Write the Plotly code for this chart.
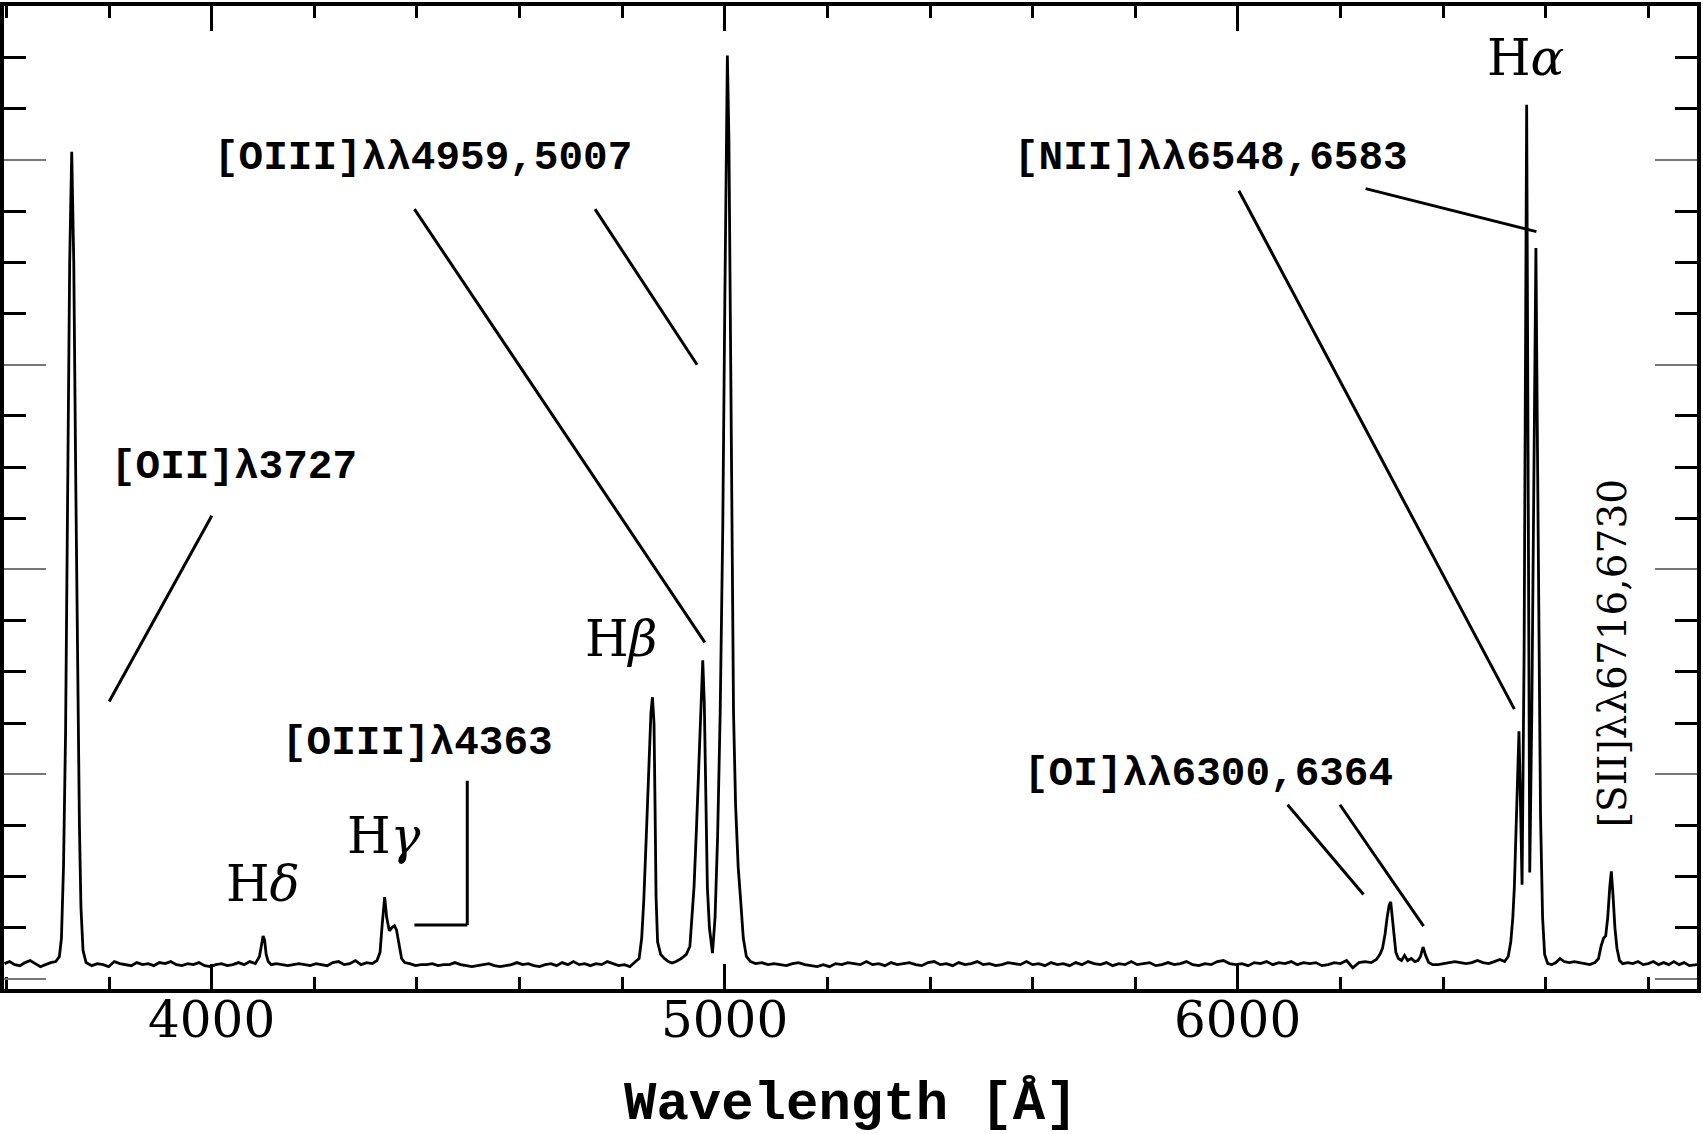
import plotly.graph_objects as go

# ---------------- spectrum data (wavelength in Angstrom, flux in arbitrary units) ----------------
cont_a_w = [3596, 3606, 3616, 3626, 3636, 3646, 3656, 3666, 3676, 3686, 3696, 3703]
cont_a_f = [0.075, 0.085, 0.07, 0.065, 0.08, 0.09, 0.075, 0.06, 0.07, 0.08, 0.085, 0.11]

oii_w = [3707, 3711, 3715, 3719, 3723, 3727, 3731, 3735, 3739, 3742, 3745, 3749]
oii_f = [0.2, 0.55, 1.2, 2.3, 3.5, 4.04, 3.5, 2.4, 1.3, 0.75, 0.35, 0.14]

cont_b_w = [3755, 3766, 3777, 3788, 3799, 3810, 3821, 3832, 3843, 3854, 3865, 3876, 3887, 3898,
            3909, 3920, 3931, 3942, 3953, 3964, 3975, 3986, 3997, 4008, 4019, 4030, 4041, 4052,
            4063, 4074, 4085, 4093]
cont_b_f = [0.08, 0.065, 0.075, 0.07, 0.06, 0.085, 0.075, 0.07, 0.065, 0.08, 0.07, 0.075, 0.065, 0.08,
            0.075, 0.085, 0.07, 0.065, 0.075, 0.07, 0.08, 0.065, 0.06, 0.07, 0.075, 0.065, 0.07, 0.08,
            0.07, 0.085, 0.075, 0.11]

hdelta_w = [4097, 4100, 4103, 4106, 4110, 4116]
hdelta_f = [0.16, 0.21, 0.19, 0.12, 0.085, 0.07]

cont_c_w = [4126, 4137, 4148, 4159, 4170, 4181, 4192, 4203, 4214, 4225, 4236, 4247, 4258, 4269,
            4280, 4291, 4302, 4313, 4322]
cont_c_f = [0.075, 0.07, 0.065, 0.07, 0.075, 0.07, 0.065, 0.075, 0.07, 0.065, 0.08, 0.085, 0.07, 0.075,
            0.09, 0.07, 0.08, 0.075, 0.09]

hgamma_w = [4328, 4332, 4337, 4341, 4346, 4351, 4356, 4360, 4365, 4370, 4376]
hgamma_f = [0.13, 0.26, 0.40, 0.30, 0.235, 0.25, 0.26, 0.24, 0.16, 0.10, 0.08]

cont_d_w = [4386, 4397, 4408, 4419, 4430, 4441, 4452, 4463, 4474, 4485, 4496, 4507, 4518, 4529,
            4540, 4551, 4562, 4573, 4584, 4595, 4606, 4617, 4628, 4639, 4650, 4661, 4672, 4683,
            4694, 4705, 4716, 4727, 4738, 4749, 4760, 4771, 4782, 4793, 4804, 4815, 4826]
cont_d_f = [0.075, 0.065, 0.07, 0.07, 0.075, 0.065, 0.07, 0.07, 0.08, 0.07, 0.065, 0.06, 0.065, 0.07,
            0.075, 0.065, 0.06, 0.065, 0.07, 0.08, 0.07, 0.075, 0.065, 0.06, 0.07, 0.075, 0.065, 0.08,
            0.07, 0.085, 0.07, 0.075, 0.065, 0.075, 0.07, 0.085, 0.075, 0.065, 0.07, 0.06, 0.085]

hbeta_oiii_w = [4833, 4838, 4842, 4847, 4852, 4856, 4859, 4862, 4864, 4866, 4869, 4875, 4882, 4890,
                4897, 4905, 4915, 4925, 4932, 4936, 4940, 4945, 4950, 4954, 4957, 4960, 4963, 4966,
                4970, 4976, 4981, 4986, 4991, 4996, 5000, 5003, 5005, 5008, 5011, 5014, 5017, 5021,
                5026, 5031, 5036, 5042, 5050]
hbeta_oiii_f = [0.1, 0.2, 0.38, 0.7, 1.05, 1.3, 1.376, 1.25, 0.85, 0.4, 0.18, 0.12, 0.1, 0.085,
                0.078, 0.085, 0.1, 0.12, 0.16, 0.3, 0.45, 0.75, 1.1, 1.4, 1.556, 1.35, 0.95, 0.45,
                0.25, 0.126, 0.3, 0.7, 1.3, 2.2, 3.3, 4.2, 4.51, 4.1, 3.0, 1.9, 1.3, 0.85,
                0.55, 0.38, 0.2, 0.11, 0.085]

cont_e_w = [5060, 5072, 5084, 5096, 5108, 5120, 5132, 5144, 5156, 5168,
            5180, 5192, 5204, 5216, 5228, 5240, 5252, 5264, 5276, 5288,
            5300, 5312, 5324, 5336, 5348, 5360, 5372, 5384, 5396, 5408,
            5420, 5432, 5444, 5456, 5468, 5480, 5492, 5504, 5516, 5528,
            5540, 5552, 5564, 5576, 5588, 5600, 5612, 5624, 5636, 5648,
            5660, 5672, 5684, 5696, 5708, 5720, 5732, 5744, 5756, 5768,
            5780, 5792, 5804, 5816, 5828, 5840, 5852, 5864, 5876, 5888,
            5900, 5912, 5924, 5936, 5948, 5960, 5972, 5984, 5996, 6008,
            6020, 6032, 6044, 6056, 6068, 6080, 6092, 6104, 6116, 6128,
            6140, 6152, 6164, 6176, 6188, 6200, 6212, 6224, 6236, 6248,
            6260, 6270, 6277]
cont_e_f = [0.075, 0.08, 0.07, 0.075, 0.07, 0.065, 0.075, 0.08, 0.07, 0.065,
            0.06, 0.07, 0.06, 0.075, 0.07, 0.08, 0.075, 0.07, 0.085, 0.07,
            0.075, 0.065, 0.08, 0.07, 0.075, 0.08, 0.07, 0.065, 0.08, 0.085,
            0.07, 0.075, 0.065, 0.08, 0.07, 0.075, 0.085, 0.07, 0.075, 0.065,
            0.07, 0.08, 0.075, 0.07, 0.085, 0.07, 0.075, 0.065, 0.08, 0.07,
            0.075, 0.065, 0.08, 0.07, 0.085, 0.075, 0.07, 0.08, 0.065, 0.075,
            0.07, 0.085, 0.07, 0.075, 0.08, 0.065, 0.07, 0.08, 0.07, 0.075,
            0.085, 0.07, 0.065, 0.075, 0.07, 0.085, 0.09, 0.075, 0.07, 0.075,
            0.065, 0.08, 0.075, 0.085, 0.07, 0.08, 0.075, 0.085, 0.07, 0.08,
            0.075, 0.08, 0.065, 0.07, 0.08, 0.075, 0.09, 0.055, 0.08, 0.085,
            0.08, 0.095, 0.12]

oi_w = [6282, 6287, 6291, 6295, 6298, 6301, 6304, 6308, 6313, 6319, 6325, 6331, 6338, 6345,
        6351, 6356, 6361, 6366, 6372, 6380]
oi_f = [0.15, 0.22, 0.3, 0.36, 0.377, 0.3, 0.2, 0.13, 0.1, 0.09, 0.115, 0.09, 0.1, 0.085,
        0.09, 0.11, 0.156, 0.115, 0.08, 0.07]

cont_f_w = [6390, 6401, 6412, 6423, 6434, 6445, 6456, 6467, 6478, 6489, 6500, 6511, 6520, 6527, 6532]
cont_f_f = [0.07, 0.075, 0.08, 0.085, 0.08, 0.075, 0.08, 0.09, 0.08, 0.075, 0.085, 0.095, 0.085, 0.11, 0.18]

halpha_nii_w = [6536, 6539, 6542, 6545, 6548, 6551, 6554, 6558, 6561, 6563, 6565, 6567, 6569, 6573,
                6577, 6581, 6584, 6587, 6590, 6594, 6598, 6604]
halpha_nii_f = [0.3, 0.45, 0.75, 1.05, 1.21, 0.85, 0.46, 1.6, 3.3, 4.27, 3.0, 1.4, 0.52, 1.3,
                2.4, 3.57, 2.6, 1.6, 0.8, 0.3, 0.12, 0.075]

sii_w = [6612, 6620, 6628, 6636, 6646, 6656, 6666, 6676, 6686, 6696, 6703, 6708, 6713, 6717,
         6721, 6725, 6728, 6731, 6735, 6739, 6744, 6750, 6760, 6770, 6780, 6790, 6800, 6810,
         6820, 6830, 6840, 6850, 6860, 6870, 6880, 6895]
sii_f = [0.07, 0.08, 0.1, 0.085, 0.08, 0.085, 0.08, 0.075, 0.07, 0.08, 0.1, 0.16, 0.2, 0.21,
         0.3, 0.45, 0.525, 0.42, 0.25, 0.15, 0.09, 0.075, 0.08, 0.075, 0.085, 0.07, 0.075, 0.085,
         0.07, 0.08, 0.07, 0.085, 0.07, 0.08, 0.065, 0.07]

segments = [(cont_a_w, cont_a_f), (oii_w, oii_f), (cont_b_w, cont_b_f), (hdelta_w, hdelta_f),
            (cont_c_w, cont_c_f), (hgamma_w, hgamma_f), (cont_d_w, cont_d_f),
            (hbeta_oiii_w, hbeta_oiii_f), (cont_e_w, cont_e_f), (oi_w, oi_f),
            (cont_f_w, cont_f_f), (halpha_nii_w, halpha_nii_f), (sii_w, sii_f)]
wavelength, flux = [], []
for w, f in segments:
    assert len(w) == len(f), (w[0], len(w), len(f))
    wavelength += w
    flux += f

x_ticks = [4000, 5000, 6000]
x_tick_labels = ["4000", "5000", "6000"]
x_range = [3595, 6895]
y_range = [-0.049, 4.752]

MONO = "Liberation Mono"
SERIF = "DejaVu Serif"

fig = go.Figure()
fig.add_trace(go.Scatter(x=wavelength, y=flux, mode="lines",
                         line=dict(color="black", width=2.8),
                         hoverinfo="skip", showlegend=False))

# ---------------- labels ----------------
mono_labels = [
    ("[OII]λ3727", 3800, 2.50),
    ("[OIII]λλ4959,5007", 4000, 4.01),
    ("[OIII]λ4363", 4132, 1.153),
    ("[NII]λλ6548,6583", 5559, 4.01),
    ("[OI]λλ6300,6364", 5580, 1.00),
]
greek_labels = [
    ("H<i>α</i>", 6560, 4.50),
    ("H<i>β</i>", 4798, 1.66),
    ("H<i>γ</i>", 4336, 0.70),
    ("H<i>δ</i>", 4099, 0.465),
]
annotations = []
for txt, x, y in mono_labels:
    annotations.append(dict(text=txt, x=x, y=y, xref="x", yref="y", xanchor="left",
                            yanchor="middle", showarrow=False,
                            font=dict(family=MONO, size=41, color="black", weight="bold")))
for txt, x, y in greek_labels:
    annotations.append(dict(text=txt, x=x, y=y, xref="x", yref="y", xanchor="center",
                            yanchor="middle", showarrow=False,
                            font=dict(family=SERIF, size=50, color="black")))
annotations.append(dict(text="[SII]λλ6716,6730", x=6731, y=1.59, xref="x", yref="y",
                        xanchor="center", yanchor="middle", textangle=-90, showarrow=False,
                        font=dict(family=SERIF, size=39, color="black")))
for v, t in zip(x_ticks, x_tick_labels):
    annotations.append(dict(text=t, x=v, y=-0.032, xref="x", yref="paper",
                            xanchor="center", yanchor="middle", showarrow=False,
                            font=dict(family=SERIF, size=50, color="black")))
annotations.append(dict(text="Wavelength [Å]", x=0.5, y=-0.117, xref="paper", yref="paper",
                        xanchor="center", yanchor="middle", showarrow=False,
                        font=dict(family=MONO, size=54, color="black", weight="bold")))

# ---------------- leader lines ----------------
leaders = [
    (4000, 2.262, 3800, 1.355),   # [OII]
    (4395, 3.76, 4961, 1.644),    # [OIII] 4959
    (4747, 3.76, 4946, 3.00),     # [OIII] 5007
    (4498, 0.968, 4498, 0.263),   # [OIII]4363 bracket vertical
    (4498, 0.263, 4395, 0.263),   # bracket horizontal
    (6002, 3.85, 6539, 1.318),    # [NII] 6548
    (6249, 3.86, 6582, 3.65),     # [NII] 6583
    (6097, 0.851, 6245, 0.413),   # [OI] 6300
    (6199, 0.851, 6362, 0.258),   # [OI] 6364
]
shapes = [dict(type="line", xref="x", yref="y", x0=a, y0=b, x1=c, y1=d,
               line=dict(color="black", width=3)) for a, b, c, d in leaders]

fig.update_layout(
    width=1703, height=1134,
    margin=dict(l=4, r=3, t=2, b=145),
    paper_bgcolor="white", plot_bgcolor="white",
    showlegend=False, annotations=annotations, shapes=shapes,
)
fig.update_xaxes(
    range=x_range, tickvals=x_ticks, showticklabels=False,
    showline=True, linecolor="black", linewidth=3.5, mirror="ticks",
    ticks="inside", ticklen=25, tickwidth=2.5, tickcolor="black",
    showgrid=False, zeroline=False,
    minor=dict(dtick=200, tick0=0, ticks="inside", ticklen=12, tickwidth=3,
               tickcolor="black", showgrid=False),
)
fig.update_yaxes(
    range=y_range, dtick=1, tick0=0, showticklabels=False,
    showline=True, linecolor="black", linewidth=3.5, mirror="ticks",
    ticks="inside", ticklen=42, tickwidth=2, tickcolor="#777777",
    showgrid=False, zeroline=False,
    minor=dict(dtick=0.25, tick0=0, ticks="inside", ticklen=22, tickwidth=3,
               tickcolor="black", showgrid=False),
)

fig.write_html("out.html", config={"displayModeBar": False},
               post_script="document.body.style.margin='0';document.body.style.overflow='hidden';")
